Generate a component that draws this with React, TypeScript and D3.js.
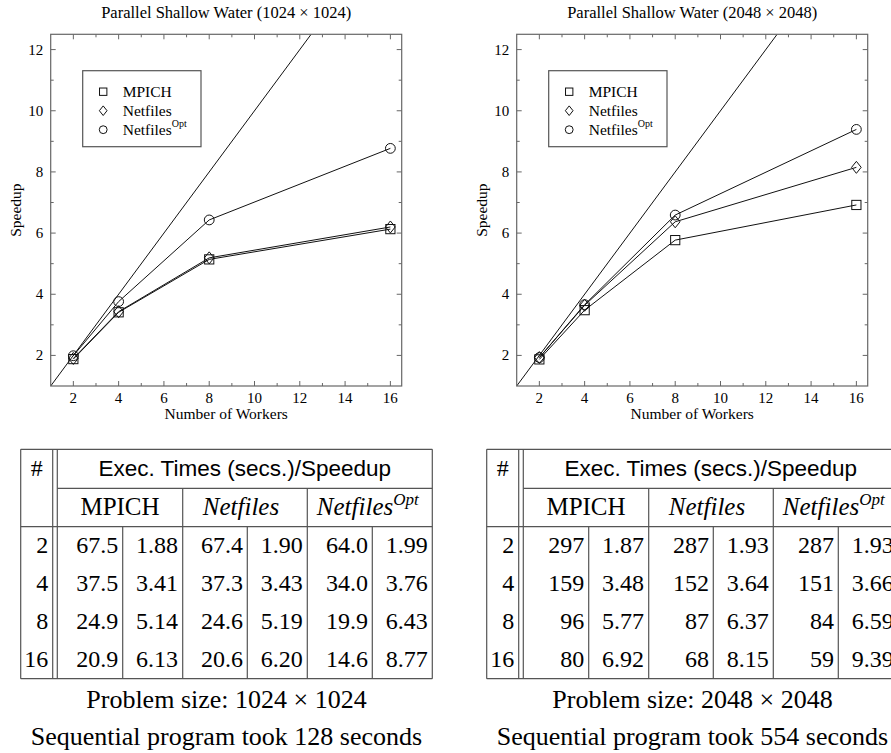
import React from 'react';
import * as d3 from 'd3';

// data
const workers = [2, 4, 8, 16];
const xTicks = [2, 4, 6, 8, 10, 12, 14, 16];
const yTicks = [2, 4, 6, 8, 10, 12];
const seriesNames = ['MPICH', 'Netfiles', 'NetfilesOpt'];

const speedMpich1024 = [1.88, 3.41, 5.14, 6.13];
const speedNetfiles1024 = [1.9, 3.43, 5.19, 6.2];
const speedOpt1024 = [1.99, 3.76, 6.43, 8.77];
const timeMpich1024 = [67.5, 37.5, 24.9, 20.9];
const timeNetfiles1024 = [67.4, 37.3, 24.6, 20.6];
const timeOpt1024 = [64.0, 34.0, 19.9, 14.6];

const speedMpich2048 = [1.87, 3.48, 5.77, 6.92];
const speedNetfiles2048 = [1.93, 3.64, 6.37, 8.15];
const speedOpt2048 = [1.93, 3.66, 6.59, 9.39];
const timeMpich2048 = [297, 159, 96, 80];
const timeNetfiles2048 = [287, 152, 87, 68];
const timeOpt2048 = [287, 151, 84, 59];

const SERIF = '"Liberation Serif", "Times New Roman", serif';
const SANS = '"Liberation Sans", Arial, sans-serif';
const FRAME = '#666';
const INK = '#111';

const Marker = ({ kind, x, y, s = 1 }: { kind: number; x: number; y: number; s?: number }) => {
  if (kind === 0) {
    const h = 4.6 * s;
    return <rect x={x - h} y={y - h} width={2 * h} height={2 * h} fill="none" stroke={INK} strokeWidth={1} />;
  }
  if (kind === 1) {
    const w = 4.8 * s, h = 6 * s;
    return <path d={`M${x},${y - h}L${x + w},${y}L${x},${y + h}L${x - w},${y}Z`} fill="none" stroke={INK} strokeWidth={1} />;
  }
  return <circle cx={x} cy={y} r={4.9 * s} fill="none" stroke={INK} strokeWidth={1} />;
};

const Chart = ({ dx, size, series }: { dx: number; size: string; series: number[][] }) => {
  const left = 50.7 + dx, top = 34.3, w = 351, h = 351.7;
  const x = d3.scaleLinear().domain([1, 16.5]).range([0, w]);
  const y = d3.scaleLinear().domain([1, 12.5]).range([h, 0]);
  const line = d3.line<[number, number]>().x(d => x(d[0])).y(d => y(d[1]));
  const lo = Math.max(x.domain()[0], y.domain()[0]);
  const hi = Math.min(x.domain()[1], y.domain()[1]);
  const clipId = `clip${dx}`;
  const xMinor = d3.range(3, 16, 2);
  const yMinor = d3.range(3, 12, 2);
  return (
    <g>
      <text x={left + w / 2} y={17.5} textAnchor="middle" fontFamily={SERIF} fontSize={16.5}>
        Parallel Shallow Water ({size} × {size})
      </text>
      <g transform={`translate(${left},${top})`}>
        <clipPath id={clipId}><rect width={w} height={h} /></clipPath>
        {/* ticks on all four sides, pointing inward */}
        {xTicks.map(t => (
          <g key={'xt' + t} stroke={FRAME}>
            <line x1={x(t)} x2={x(t)} y1={h} y2={h - 5} />
            <line x1={x(t)} x2={x(t)} y1={0} y2={5} />
          </g>
        ))}
        {xMinor.map(t => (
          <g key={'xm' + t} stroke={FRAME}>
            <line x1={x(t)} x2={x(t)} y1={h} y2={h - 3} />
            <line x1={x(t)} x2={x(t)} y1={0} y2={3} />
          </g>
        ))}
        {yTicks.map(t => (
          <g key={'yt' + t} stroke={FRAME}>
            <line x1={0} x2={5} y1={y(t)} y2={y(t)} />
            <line x1={w} x2={w - 5} y1={y(t)} y2={y(t)} />
          </g>
        ))}
        {yMinor.map(t => (
          <g key={'ym' + t} stroke={FRAME}>
            <line x1={0} x2={3} y1={y(t)} y2={y(t)} />
            <line x1={w} x2={w - 3} y1={y(t)} y2={y(t)} />
          </g>
        ))}
        {xTicks.map(t => (
          <text key={'xl' + t} x={x(t)} y={h + 17.5} textAnchor="middle" fontFamily={SERIF} fontSize={15}>{t}</text>
        ))}
        {yTicks.map(t => (
          <text key={'yl' + t} x={-7.5} y={y(t) + 5} textAnchor="end" fontFamily={SERIF} fontSize={15}>{t}</text>
        ))}
        <text x={w / 2} y={h + 33.5} textAnchor="middle" fontFamily={SERIF} fontSize={15.5}>Number of Workers</text>
        <text transform={`translate(${-30},${h / 2}) rotate(-90)`} textAnchor="middle" fontFamily={SERIF} fontSize={15.5}>Speedup</text>

        <g clipPath={`url(#${clipId})`}>
          <path d={line([[lo, lo], [hi, hi]]) || ''} fill="none" stroke={INK} strokeWidth={1} />
          {series.map((s, i) => (
            <path key={'s' + i} d={line(workers.map((wk, j) => [wk, s[j]] as [number, number])) || ''} fill="none" stroke={INK} strokeWidth={1} />
          ))}
        </g>
        {series.map((s, i) =>
          workers.map((wk, j) => <Marker key={`m${i}-${j}`} kind={i} x={x(wk)} y={y(s[j])} />)
        )}
        <rect width={w} height={h} fill="none" stroke={FRAME} strokeWidth={1.2} />

        {/* legend */}
        <g transform="translate(32,36.4)">
          <rect width={118.3} height={76} fill="white" stroke="#555" strokeWidth={1.2} />
          {seriesNames.map((n, i) => (
            <g key={n} transform={`translate(0,${21 + i * 19})`}>
              <Marker kind={i} x={20.5} y={0} s={0.8} />
              <text x={40} y={5.5} fontFamily={SERIF} fontSize={15.5}>
                {i === 0 ? 'MPICH' : 'Netfiles'}
                {i === 2 && <tspan dy={-8.5} fontSize={10}>Opt</tspan>}
              </text>
            </g>
          ))}
        </g>
      </g>
    </g>
  );
};

const Table = ({ dx, size, seq, times, speeds, fmt }: {
  dx: number; size: string; seq: number; times: number[][]; speeds: number[][]; fmt: (n: number) => string;
}) => {
  const x0 = 20.7 + dx;
  const hashR = x0 + 32, dbl = x0 + 36.6;
  const colW = [65.4, 60, 64.6, 60, 65, 60];
  const edges = colW.reduce((a, c) => [...a, a[a.length - 1] + c], [dbl]);
  const right = edges[edges.length - 1];
  const top = 449.3, h1 = 488.3, h2 = 526.7, bottom = 678.7;
  const rowY = (i: number) => 553.3 + i * 38;
  const spd = d3.format('.2f');
  const stroke = '#555';
  const cx = (a: number, b: number) => (edges[a] + edges[b]) / 2;
  return (
    <g>
      <g stroke={stroke} strokeWidth={1.2}>
        <line x1={x0} x2={right} y1={top} y2={top} />
        <line x1={dbl} x2={right} y1={h1} y2={h1} />
        <line x1={x0} x2={right} y1={h2} y2={h2} />
        <line x1={x0} x2={right} y1={bottom} y2={bottom} />
        <line x1={x0} x2={x0} y1={top} y2={bottom} />
        <line x1={hashR} x2={hashR} y1={top} y2={bottom} />
        <line x1={dbl} x2={dbl} y1={top} y2={bottom} />
        <line x1={right} x2={right} y1={top} y2={bottom} />
        {[2, 4].map(k => <line key={'g' + k} x1={edges[k]} x2={edges[k]} y1={h1} y2={bottom} />)}
        {[1, 3, 5].map(k => <line key={'c' + k} x1={edges[k]} x2={edges[k]} y1={h2} y2={bottom} />)}
      </g>
      <text x={(x0 + hashR) / 2} y={476} textAnchor="middle" fontFamily={SERIF} fontSize={24}>#</text>
      <text x={(dbl + right) / 2} y={476} textAnchor="middle" fontFamily={SANS} fontSize={22.5}>Exec. Times (secs.)/Speedup</text>
      <text x={cx(0, 2)} y={515} textAnchor="middle" fontFamily={SERIF} fontSize={25}>MPICH</text>
      <text x={cx(2, 4) - 4} y={515} textAnchor="middle" fontFamily={SERIF} fontSize={25} fontStyle="italic">Netfiles</text>
      <text x={cx(4, 6) - 2} y={515} textAnchor="middle" fontFamily={SERIF} fontSize={25} fontStyle="italic">
        Netfiles<tspan dy={-10} fontSize={17}>Opt</tspan>
      </text>
      {workers.map((wk, i) => (
        <g key={'r' + wk} fontFamily={SERIF} fontSize={24} textAnchor="end">
          <text x={hashR - 4.4} y={rowY(i)}>{wk}</text>
          {times.map((t, k) => (
            <React.Fragment key={k}>
              <text x={edges[2 * k + 1] - 4.4} y={rowY(i)}>{fmt(t[i])}</text>
              <text x={edges[2 * k + 2] - 4.6} y={rowY(i)}>{spd(speeds[k][i])}</text>
            </React.Fragment>
          ))}
        </g>
      ))}
      <text x={(x0 + right) / 2} y={708.3} textAnchor="middle" fontFamily={SERIF} fontSize={26}>Problem size: {size} × {size}</text>
      <text x={(x0 + right) / 2} y={745} textAnchor="middle" fontFamily={SERIF} fontSize={26}>Sequential program took {seq} seconds</text>
    </g>
  );
};

export default function App() {
  const s1024 = [speedMpich1024, speedNetfiles1024, speedOpt1024];
  const s2048 = [speedMpich2048, speedNetfiles2048, speedOpt2048];
  return (
    <svg width={891} height={753} style={{ position: 'absolute', left: 0, top: 0, background: 'white' }}>
      <rect width={891} height={753} fill="white" />
      <Chart dx={0} size="1024" series={s1024} />
      <Chart dx={466} size="2048" series={s2048} />
      <Table dx={0} size="1024" seq={128} times={[timeMpich1024, timeNetfiles1024, timeOpt1024]} speeds={s1024} fmt={d3.format('.1f')} />
      <Table dx={466} size="2048" seq={554} times={[timeMpich2048, timeNetfiles2048, timeOpt2048]} speeds={s2048} fmt={d3.format('d')} />
    </svg>
  );
}
